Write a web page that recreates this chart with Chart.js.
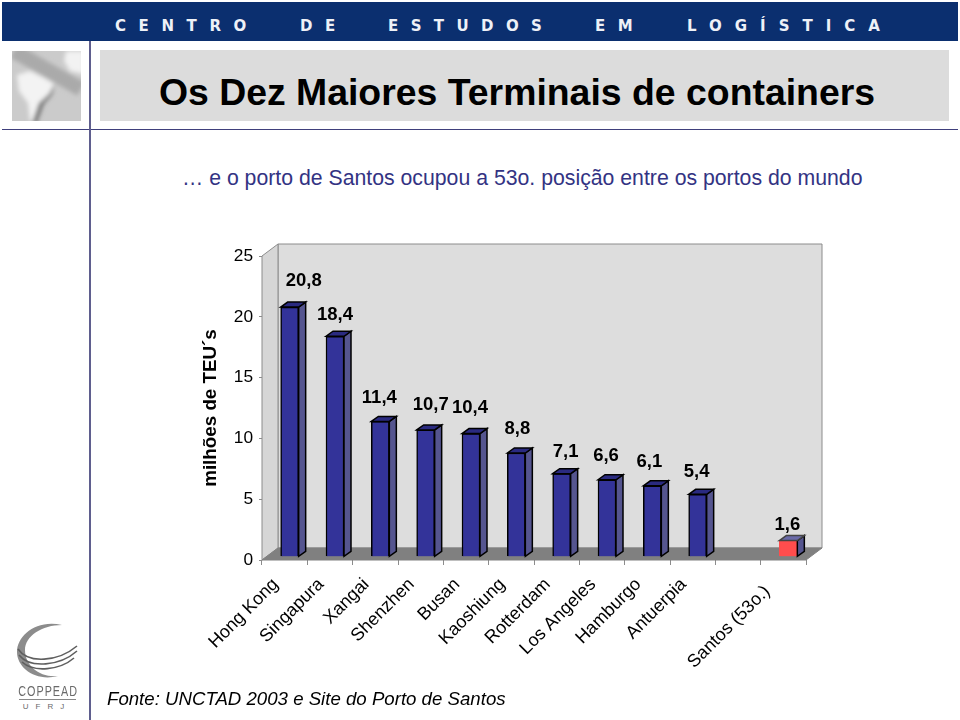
<!DOCTYPE html>
<html lang="pt">
<head>
<meta charset="utf-8">
<title>Os Dez Maiores Terminais de containers</title>
<script src="https://cdn.jsdelivr.net/npm/chart.js@4"></script>
<style>
  html, body { margin: 0; padding: 0; background: #fff; }
  body { position: relative; width: 960px; height: 720px; overflow: hidden; font-family: "Liberation Sans", Arial, sans-serif; }
  .abs { position: absolute; }
  #banner { left: 2px; top: 2px; width: 956px; height: 39px; background: #0b2f6f; }
  .hw { position: absolute; top: 17px; color: #eef1f7; font: bold 15px "DejaVu Sans", sans-serif; line-height: 18px; white-space: nowrap; }
  #hline { left: 2px; top: 129px; width: 956px; height: 1px; background: #3f3f7c; }
  #vline { left: 89px; top: 41px; width: 2px; height: 679px; background: #5f5e8e; }
  #titlebox { left: 100px; top: 50px; width: 849px; height: 71px; background: #dcdcdc; }
  #title { left: 100px; top: 50px; width: 834px; height: 85px; line-height: 85px; text-align: center; font-weight: bold; font-size: 37.4px; color: #000; white-space: nowrap; }
  #sub { left: 182px; top: 165px; font-size: 21.25px; line-height: 26px; color: #333383; white-space: nowrap; }
  #fonte { left: 107px; top: 688px; font-style: italic; font-size: 18.65px; line-height: 22px; color: #000; white-space: nowrap; }
  #map { left: 12px; top: 51px; }
  #logo { left: 14px; top: 622px; }
  #chart { position: absolute; left: 190px; top: 230px; }
  .cop { position: absolute; left: 7px; width: 80px; text-align: center; color: #6a6a6a; white-space: nowrap; }
</style>
</head>
<body>
<div class="abs" id="banner"></div>
<div class="hw" style="left:115px;letter-spacing:12.6px">CENTRO</div>
<div class="hw" style="left:300px;letter-spacing:12.6px">DE</div>
<div class="hw" style="left:388px;letter-spacing:12.4px">ESTUDOS</div>
<div class="hw" style="left:595px;letter-spacing:12.6px">EM</div>
<div class="hw" style="left:687px;letter-spacing:13px">LOGÍSTICA</div>
<div class="abs" id="hline"></div>
<div class="abs" id="vline"></div>
<div class="abs" id="titlebox"></div>
<div class="abs" id="title">Os Dez Maiores Terminais de containers</div>
<div class="abs" id="sub">… e o porto de Santos ocupou a 53o. posição entre os portos do mundo</div>
<svg class="abs" id="map" width="69" height="70" viewBox="0 0 69 70">
  <defs>
    <filter id="bl" x="-20%" y="-20%" width="140%" height="140%"><feGaussianBlur stdDeviation="2"/></filter>
    <clipPath id="mc"><rect width="69" height="70"/></clipPath>
  </defs>
  <g clip-path="url(#mc)">
    <rect width="69" height="70" fill="#cbcbcb"/>
    <g filter="url(#bl)">
      <path d="M2 0L69 38" stroke="#aaaaaa" stroke-width="15" fill="none"/>
      <path d="M54 0H72V23L58 20L52 10Z" fill="#f2f2f2"/>
      <path d="M5 24L18 20L32 27L42 33L38 44L30 52L22 70H18L16 52L7 40Z" fill="#f3f3f3"/>
      <path d="M43 32L40 44L32 53L25 72H20L27 52L37 43Z" fill="#777"/>
    </g>
  </g>
</svg>
<svg class="abs" id="logo" width="64" height="62" viewBox="0 0 64 62">
  <path d="M48 3C22 -3 3 14 3 30C3 46 22 60 44 54C26 56 11 44 11 28C11 14 28 3 48 3Z" fill="#8c8c8c"/>
  <path d="M4 27C14 42 44 40 63 24" fill="none" stroke="#5f5f5f" stroke-width="1.6"/>
  <path d="M5 33C16 47 46 44 63 29" fill="none" stroke="#5f5f5f" stroke-width="1.6"/>
  <path d="M8 40C20 51 46 48 60 36" fill="none" stroke="#5f5f5f" stroke-width="1.6"/>
</svg>
<div class="cop" style="top:683px;font-size:15px;letter-spacing:1.4px;line-height:16px;transform:scaleX(0.72)">COPPEAD</div>
<div class="abs" style="left:19px;top:699px;width:57px;height:1px;background:#888"></div>
<div class="cop" style="top:701px;font-size:8px;letter-spacing:7px;line-height:11px">UFRJ</div>
<canvas id="chart" width="660" height="470"></canvas>
<div class="abs" id="fonte">Fonte: UNCTAD 2003 e Site do Porto de Santos</div>

<script>
const categories = ['Hong Kong', 'Singapura', 'Xangai', 'Shenzhen', 'Busan', 'Kaoshiung', 'Rotterdam', 'Los Angeles', 'Hamburgo', 'Antuerpia', '', 'Santos (53o.)'];
const teuValues = [20.8, 18.4, 11.4, 10.7, 10.4, 8.8, 7.1, 6.6, 6.1, 5.4, null, 1.6];
const yTicks = [0, 5, 10, 15, 20, 25];
const barColors = ['#333399', '#333399', '#333399', '#333399', '#333399', '#333399', '#333399', '#333399', '#333399', '#333399', '#333399', '#ff4d4d'];

// where each value label was dragged to, relative to the top of its bar
const labelShift = [[14, -26], [0, -21], [-1, -23], [5, -25], [-1, -26], [1, -24], [4, -22], [-1, -24], [-3, -24], [-1, -22], [0, 0], [-1, -16]];

// 3d look of the excel chart
const wallX = 16, wallY = 12;
const barX = 5, barSideX = 7, barSideY = 5;

function poly(ctx, pts, fill, stroke, width) {
  ctx.beginPath();
  pts.forEach((p, i) => i ? ctx.lineTo(p[0], p[1]) : ctx.moveTo(p[0], p[1]));
  ctx.closePath();
  if (fill) { ctx.fillStyle = fill; ctx.fill(); }
  if (stroke) { ctx.strokeStyle = stroke; ctx.lineWidth = width || 1; ctx.stroke(); }
}

const box3d = {
  id: 'box3d',
  beforeDatasetsDraw(chart) {
    const { ctx, chartArea: a } = chart;
    ctx.save();
    // back wall, side wall, floor
    poly(ctx, [[a.left + wallX, a.top - wallY], [a.right + wallX, a.top - wallY], [a.right + wallX, a.bottom - wallY], [a.left + wallX, a.bottom - wallY]], '#dddddd', '#8c8c8c');
    poly(ctx, [[a.left, a.top], [a.left + wallX, a.top - wallY], [a.left + wallX, a.bottom - wallY], [a.left, a.bottom]], '#d6d6d6', '#8c8c8c');
    poly(ctx, [[a.left, a.bottom], [a.left + wallX, a.bottom - wallY], [a.right + wallX, a.bottom - wallY], [a.right, a.bottom]], '#808080', '#808080');
    ctx.restore();
    ctx.save();
    ctx.translate(barX, 0);
  },
  afterDatasetsDraw(chart) {
    const { ctx } = chart;
    const bars = chart.getDatasetMeta(0).data;
    bars.forEach((bar, i) => {
      if (teuValues[i] === null) return;
      const l = bar.x - bar.width / 2, r = bar.x + bar.width / 2;
      const red = barColors[i] !== barColors[0];
      poly(ctx, [[r, bar.y], [r + barSideX, bar.y - barSideY], [r + barSideX, bar.base - barSideY], [r, bar.base]], '#55558f', '#000', 1.5);
      poly(ctx, [[l, bar.y], [l + barSideX, bar.y - barSideY], [r + barSideX, bar.y - barSideY], [r, bar.y]], red ? '#6a6aa8' : '#2a2a80', red ? '#444' : '#000', 1.5);
    });
    ctx.restore();
    // value labels
    ctx.save();
    ctx.font = 'bold 18.5px "Liberation Sans", Arial, sans-serif';
    ctx.fillStyle = '#000';
    ctx.textAlign = 'center';
    ctx.textBaseline = 'middle';
    bars.forEach((bar, i) => {
      if (teuValues[i] === null) return;
      const s = labelShift[i];
      ctx.fillText(String(teuValues[i]).replace('.', ','), bar.x + barX + s[0], bar.y + s[1]);
    });
    ctx.restore();
  }
};

new Chart(document.getElementById('chart').getContext('2d'), {
  type: 'bar',
  data: {
    labels: categories,
    datasets: [{
      data: teuValues,
      base: 0.3,
      backgroundColor: barColors,
      borderColor: barColors.map(c => c === barColors[0] ? '#000' : '#ff4d4d'),
      borderWidth: 1.5,
      barThickness: 18
    }]
  },
  options: {
    responsive: false,
    animation: false,
    layout: { padding: { top: 26, right: 44, left: 0, bottom: 0 } },
    plugins: { legend: { display: false }, tooltip: { enabled: false } },
    scales: {
      x: {
        grid: { display: true, drawOnChartArea: false, drawTicks: true, tickLength: 5, tickColor: '#8c8c8c', color: '#8c8c8c', offset: true },
        border: { display: false },
        afterFit(scale) { scale.height = 140; },
        ticks: {
          autoSkip: false,
          minRotation: 45,
          maxRotation: 45,
          padding: 9,
          labelOffset: -9,
          color: '#000',
          font: { family: '"Liberation Sans", Arial, sans-serif', size: 18 },
          // the last label sits lower and further left in the original
          callback(value, index) {
            const label = categories[index];
            return index === categories.length - 1 ? label + '\u00a0\u00a0' : label;
          }
        }
      },
      y: {
        min: 0,
        max: 25,
        afterBuildTicks(scale) { scale.ticks = yTicks.map(v => ({ value: v })); },
        afterFit(scale) { scale.width = 72; },
        grid: { display: true, drawOnChartArea: false, tickLength: 3, tickColor: '#8c8c8c' },
        border: { display: false },
        title: {
          display: true,
          text: 'milhões de TEU´s',
          color: '#000',
          padding: { top: 10, bottom: 0 },
          font: { family: '"Liberation Sans", Arial, sans-serif', size: 18.8, weight: 'bold' }
        },
        ticks: {
          padding: 6,
          color: '#000',
          font: { family: '"Liberation Sans", Arial, sans-serif', size: 17.3 }
        }
      }
    }
  },
  plugins: [box3d]
});
</script>
</body>
</html>
